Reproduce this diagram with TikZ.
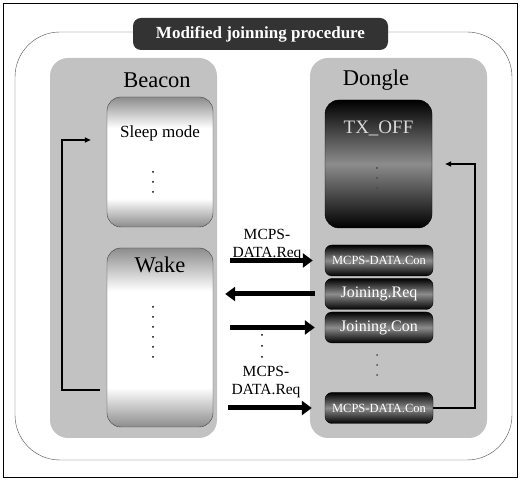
\documentclass[tikz,border=0pt]{standalone}
\usepackage{fontspec}
\setmainfont{Liberation Serif}
\usetikzlibrary{arrows.meta,positioning}
\pgfdeclareverticalshading{boxfade}{100bp}{color(0bp)=(black!45); color(25bp)=(black!45); color(36bp)=(white);
  color(63bp)=(white); color(75bp)=(black!45); color(100bp)=(black!45)}
\tikzset{
  panel/.style={fill=black!24,draw=none,rounded corners=18pt},
  litebox/.style={draw=black!75,shading=boxfade,rounded corners=14pt,minimum width=106pt,inner sep=0pt},
  darkbox/.style={draw=black,rounded corners=7pt,top color=black,bottom color=black,middle color=black!45,
    text=white,minimum width=108pt,minimum height=31pt,inner sep=0pt},
  msgarrow/.style={line width=5pt,-{Triangle[length=10pt,width=14pt]}},
  loopline/.style={line width=1.6pt,-{Triangle[length=6pt,width=5pt]}},
  bigfont/.style={font=\fontsize{22.5}{24}\selectfont},
  reqlbl/.style={font=\fontsize{15.5}{18}\selectfont,align=center,inner sep=0pt},
}
\begin{document}
\begin{tikzpicture}[x=1pt,y=1pt]
\useasboundingbox (0,0) rectangle (520,482);
\draw[line width=1pt] (3,4) rectangle (517,478);
\draw[black!70,rounded corners=45pt] (15,22) rectangle (512,450);
\node[fill=black!80,rounded corners=8pt,minimum width=255pt,minimum height=32pt,text=white,
  font=\fontsize{17}{19}\selectfont\bfseries] (title) at (260.5,448) {Modified joinning procedure};
% the two sides
\node[panel,minimum width=167pt,minimum height=380pt] (beacon) at (133.5,234) {};
\node[panel,minimum width=177pt,minimum height=380pt] (dongle) at (398.5,234) {};
\node[bigfont] (beaconlbl) at (157,402) {Beacon};
\node[bigfont] (donglelbl) at (376,402) {Dongle};
% beacon states
\node[litebox,minimum height=130pt,
  label={[anchor=north,yshift=-25pt,font=\fontsize{17}{19}\selectfont]north:Sleep mode}] (sleep) at (160,320) {};
\node[litebox,minimum height=179pt,
  label={[anchor=north,yshift=-6pt,bigfont]north:Wake}] (wake) at (160,144.5) {};
\foreach \y in {290,300,310} \fill (153,\y) circle (1pt);
\foreach \y in {125,135,...,175} \fill (153,\y) circle (1pt);
% dongle states
\node[darkbox,minimum width=107pt,minimum height=128pt,rounded corners=14pt,
  label={[anchor=north,yshift=-18pt,text=white!85!black,font=\fontsize{19}{21}\selectfont]north:TX\_OFF}] (txoff) at (378.5,318) {};
\foreach \y in {294,304,314} \fill[black!70] (377,\y) circle (1.2pt);
\node[darkbox,font=\fontsize{12.5}{14}\selectfont] (cona) at (379,221.5) {MCPS-DATA.Con};
\node[darkbox,font=\fontsize{16}{18}\selectfont] (jreq) at (379,188) {Joining.Req};
\node[darkbox,font=\fontsize{16}{18}\selectfont] (jcon) at (379,154.5) {Joining.Con};
\foreach \y in {107,117,127} \fill[black!70] (377,\y) circle (1pt);
\node[darkbox,font=\fontsize{12.5}{14}\selectfont] (conb) at (379,74) {MCPS-DATA.Con};
% messages
\node[reqlbl] (reqa) at (267,237) {MCPS-\\DATA.Req};
\node[reqlbl] (reqb) at (266,100) {MCPS-\\DATA.Req};
\draw[msgarrow] ([xshift=17pt]wake.east |- cona.west) -- ([xshift=-12pt]cona.west);
\draw[msgarrow] ([xshift=-10pt]jreq.west) -- ([xshift=12pt]wake.east |- jreq.west);
\draw[msgarrow] ([xshift=17pt]wake.east |- jcon.west) -- ([xshift=-10pt]jcon.west);
\draw[msgarrow] ([xshift=15pt]wake.east |- conb.west) -- ([xshift=-13pt]conb.west);
\foreach \y in {125,136,147} \fill (262,\y) circle (1pt);
% loops back
\draw[loopline] ([xshift=-7pt,yshift=-52.5pt]wake.west) -- ++(-38,0) |- ([xshift=-16pt,yshift=22pt]sleep.west);
\draw[loopline] (conb.east) -- ++(42,0) |- ([xshift=13pt]txoff.east);
\end{tikzpicture}
\end{document}
